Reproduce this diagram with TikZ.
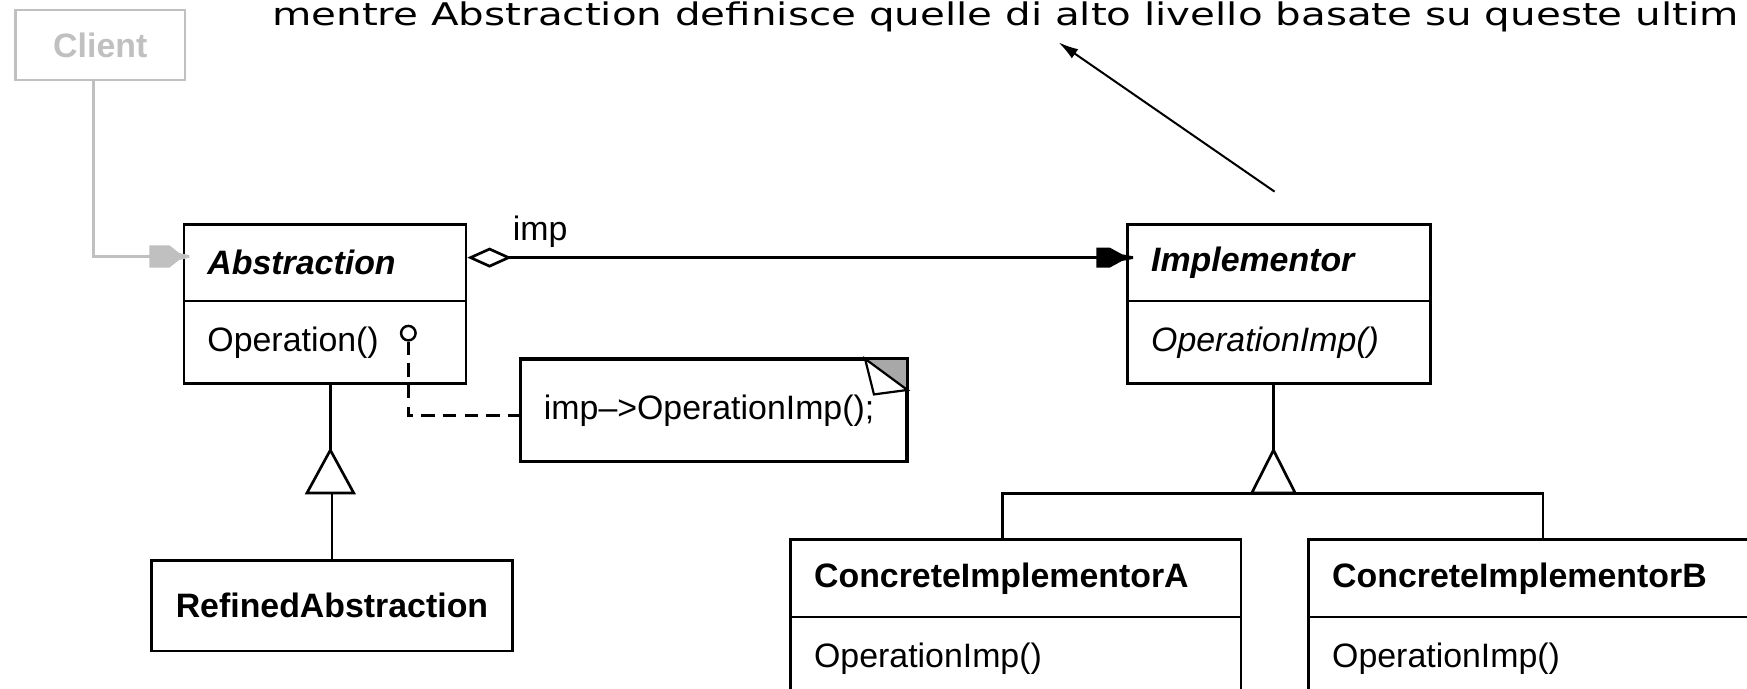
\documentclass[tikz,border=0pt]{standalone}
\usepackage{fontspec}
\usepackage{graphicx}
\setmainfont{Liberation Sans}
\newfontfamily\remarkfont{DejaVu Sans}
\usetikzlibrary{arrows.meta,calc}

\definecolor{clientgray}{HTML}{C0C0C0}
\definecolor{foldgray}{HTML}{A8A8A8}

\begin{document}
\begin{tikzpicture}[x=0.5pt,y=-0.5pt,
  umlfont/.style={font=\fontsize{15.2pt}{18pt}\selectfont},
  compartment/.style={draw, line width=1.2pt, anchor=north west, inner xsep=10.5pt,
    inner ysep=0pt, align=left, umlfont},
  conn/.style={line width=1.2pt},
  lbl/.style={anchor=base west, inner sep=0pt, umlfont}]

\useasboundingbox (0,0) rectangle (1568,618);
\fill[white] (0,0) rectangle (1568,618);
\clip (0,0) rectangle (1568,618);

% remark line at the top
\node[anchor=base west, inner sep=0pt] (remark) at (244,23)
  {\scalebox{1.295}[1]{\remarkfont\fontsize{14pt}{16pt}\selectfont mentre Abstraction definisce quelle di alto livello basate su queste ultim}};

% client
\node[draw=clientgray, line width=1pt, anchor=north west, minimum width=76pt,
  minimum height=31.5pt, inner sep=0pt, text=clientgray, umlfont] (client) at (13,8)
  {\bfseries Client};

% Abstraction
\node[compartment, text width=105.5pt, minimum height=34.5pt] (absT) at (164,200)
  {\bfseries\itshape Abstraction};
\node[compartment, text width=105.5pt, minimum height=37pt] (absM) at (164,269)
  {Operation()};

% Implementor
\node[compartment, text width=115pt, minimum height=34.5pt] (impT) at (1011,200)
  {\bfseries\itshape Implementor};
\node[compartment, text width=115pt, minimum height=37pt] (impM) at (1011,269)
  {\itshape OperationImp()};

% RefinedAbstraction
\node[draw, line width=1.2pt, anchor=north west, minimum width=161.75pt,
  minimum height=40.5pt, inner sep=0pt, umlfont] (ra) at (135,502)
  {\bfseries RefinedAbstraction};

% concrete implementors
\node[compartment, text width=181pt, minimum height=34.8pt] (ciaT) at (708.5,483)
  {\bfseries ConcreteImplementorA};
\node[compartment, text width=181pt, minimum height=37pt] (ciaM) at (708.5,552.6)
  {OperationImp()};
\node[compartment, text width=181pt, minimum height=34.8pt] (cibT) at (1173.5,483)
  {\bfseries ConcreteImplementorB};
\node[compartment, text width=181pt, minimum height=37pt] (cibM) at (1173.5,552.6)
  {OperationImp()};

% note with folded corner
\node[compartment, text width=152pt, minimum height=45.5pt] (note) at (466,322)
  {imp–>OperationImp();};
\fill[foldgray] ($(note.north east)+(-38,0)$) -- (note.north east) -- ($(note.north east)+(0,28)$) -- cycle;
\draw[line width=1pt, fill=white] ($(note.north east)+(-38,0)$) -- ($(note.north east)+(-30,32)$)
  -- ($(note.north east)+(0,28)$) -- cycle;
\draw[line width=1.2pt] (note.north west) -| (note.south east);

% client reference
\coordinate (clientIn) at ($(absT.west)+(0,-5.5)$);
\draw[clientgray, line width=1pt] ($(client.south)+(-6,0)$) |- (clientIn);
\fill[clientgray, shift={(clientIn)}] (-30,-10) -- (-12,-10) -- (-3,-3) -- (6,-1.2)
  -- (6,1.2) -- (-3,3) -- (-12,10) -- (-30,10) -- cycle;

% aggregation imp
\coordinate (aggOut) at ($(absT.east)+(0,-4.5)$);
\coordinate (impIn) at ($(impT.west)+(0,-4.5)$);
\draw[conn, {Diamond[open,length=20pt,width=9pt]}-] (aggOut) -- (impIn);
\fill[shift={(impIn)}] (-27,-9) -- (-15,-9) -- (-4,-3) -- (6,-1.2) -- (6,1.2)
  -- (-4,3) -- (-15,9) -- (-27,9) -- cycle;
\node[lbl] (impLabel) at (460,215.4) {imp};

% operation annotation
\node[circle, draw, line width=1.1pt, minimum size=6.5pt, inner sep=0pt] (lolly) at (366.5,299) {};
\coordinate (bend) at (366.5,373);
\draw[conn, dash pattern=on 6pt off 3.75pt] (lolly.south) -- (bend) -- (bend -| note.west);

% generalization Abstraction <- RefinedAbstraction
\coordinate (absApex) at (296.5,404);
\coordinate (absBase) at ($(absApex)+(0,38.5)$);
\draw[conn] (absApex |- absM.south) -- (absApex);
\draw[conn, line join=miter] (absApex) -- ++(-21,38.5) -- ++(42,0) -- cycle;
\draw[conn] (ra.north |- absBase) -- (ra.north);

% generalization Implementor <- concrete implementors
\coordinate (impApex) at (1143,404);
\coordinate (impBase) at ($(impApex)+(0,38.5)$);
\draw[conn] (impApex |- impM.south) -- (impApex);
\draw[conn, line join=miter] (impApex) -- ++(-19.5,38.5) -- ++(39,0) -- cycle;
\coordinate (barA) at (900,442.8);
\coordinate (barB) at (1385,442.8);
\draw[conn] (barA |- ciaT.north) -- (barA) -- (barB) -- (barB |- cibT.north);

% pointer towards the remark
\coordinate (ptrTail) at (1144,172);
\coordinate (ptrTip) at (950,38);
\draw[line width=0.9pt, -{Latex[length=9pt,width=5pt]}] (ptrTail) -- (ptrTip);
\end{tikzpicture}
\end{document}
